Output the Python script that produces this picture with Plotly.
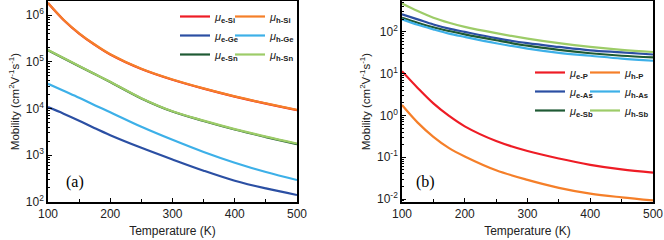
import plotly.graph_objects as go

# ---------------- data ----------------
temperature = [100, 125, 150, 175, 200, 250, 300, 350, 400, 450, 500]

# panel (a)  mobility, cm^2 V^-1 s^-1
mu_e_Si = [1.80e6, 7.85e5, 4.02e5, 2.31e5, 1.43e5, 7.0e4, 4.12e4, 2.66e4, 1.80e4, 1.27e4, 9.2e3]
mu_h_Si = [1.82e6, 7.94e5, 4.07e5, 2.34e5, 1.45e5, 7.08e4, 4.17e4, 2.69e4, 1.82e4, 1.29e4, 9.33e3]
mu_e_Ge = [1.07e4, 7.76e3, 5.50e3, 3.80e3, 2.69e3, 1.445e3, 813, 468, 285, 195, 141]
mu_h_Ge = [3.39e4, 2.40e4, 1.70e4, 1.175e4, 8.32e3, 4.07e3, 2.14e3, 1.175e3, 692, 437, 295]
mu_e_Sn = [1.76e5, 1.19e5, 8.05e4, 5.45e4, 3.68e4, 1.64e4, 8.6e3, 5.42e3, 3.56e3, 2.45e3, 1.72e3]
mu_h_Sn = [1.78e5, 1.20e5, 8.13e4, 5.50e4, 3.72e4, 1.66e4, 8.71e3, 5.50e3, 3.63e3, 2.51e3, 1.78e3]

# panel (b)
mu_e_P = [11.5, 4.57, 1.95, 0.977, 0.550, 0.245, 0.141, 0.0933, 0.0661, 0.0513, 0.0427]
mu_h_P = [1.78, 0.676, 0.309, 0.166, 0.105, 0.049, 0.0288, 0.0186, 0.0135, 0.011, 0.0093]
mu_e_As = [263, 200, 151, 120, 100, 70.8, 53.7, 43.7, 36.3, 32.4, 28.8]
mu_h_As = [200, 148, 115, 91.2, 75.9, 53.7, 39.8, 31.6, 26.9, 22.9, 20.4]
mu_e_Sb = [219, 166, 129, 105, 87.1, 63.1, 46.8, 37.2, 30.9, 26.9, 24.5]
mu_h_Sb = [479, 316, 219, 166, 132, 93.3, 69.2, 53.7, 43.7, 37.2, 33.1]

# tick labels
ticks_a = [1e2, 1e3, 1e4, 1e5, 1e6]
ticktext_a = ["10<sup>2</sup>", "10<sup>3</sup>", "10<sup>4</sup>", "10<sup>5</sup>", "10<sup>6</sup>"]
ticks_b = [1e-2, 1e-1, 1e0, 1e1, 1e2]
ticktext_b = ["10<sup>-2</sup>", "10<sup>-1</sup>", "10<sup>0</sup>", "10<sup>1</sup>", "10<sup>2</sup>"]

RED = "#EE1C25"
ORANGE = "#F57F29"
BLUE = "#2B4FA3"
LBLUE = "#3DB0E8"
DGREEN = "#1F5A34"
LGREEN = "#9DCC68"

FONT = "Liberation Sans, Arial, sans-serif"

fig = go.Figure()


def label(sym):
    return "<i>\u03bc</i><sub><b>" + sym + "</b></sub>"


def add(x, y, name, color, xa, ya, leg):
    fig.add_trace(go.Scatter(
        x=x, y=y, name=label(name), mode="lines",
        line=dict(color=color, width=2.2, shape="spline", smoothing=1),
        xaxis=xa, yaxis=ya, legend=leg))


# panel (a): e- first, h- on top
add(temperature, mu_e_Si, "e-Si", RED, "x", "y", "legend")
add(temperature, mu_e_Ge, "e-Ge", BLUE, "x", "y", "legend")
add(temperature, mu_e_Sn, "e-Sn", DGREEN, "x", "y", "legend")
add(temperature, mu_h_Si, "h-Si", ORANGE, "x", "y", "legend2")
add(temperature, mu_h_Ge, "h-Ge", LBLUE, "x", "y", "legend2")
add(temperature, mu_h_Sn, "h-Sn", LGREEN, "x", "y", "legend2")

# panel (b)
add(temperature, mu_e_P, "e-P", RED, "x2", "y2", "legend3")
add(temperature, mu_e_As, "e-As", BLUE, "x2", "y2", "legend3")
add(temperature, mu_e_Sb, "e-Sb", DGREEN, "x2", "y2", "legend3")
add(temperature, mu_h_P, "h-P", ORANGE, "x2", "y2", "legend4")
add(temperature, mu_h_As, "h-As", LBLUE, "x2", "y2", "legend4")
add(temperature, mu_h_Sb, "h-Sb", LGREEN, "x2", "y2", "legend4")

W, H = 664, 240
ML, MR, MT, MB = 0, 0, 1, 38


def xaxis(domain, anchor):
    return dict(
        domain=domain, anchor=anchor, range=[100, 500], dtick=100,
        automargin=False,
        showline=True, linecolor="black", linewidth=1.6, mirror=True,
        ticks="inside", ticklen=4, tickwidth=1, tickcolor="black",
        minor=dict(ticks="inside", ticklen=3, dtick=50, tickcolor="black"),
        showgrid=False, zeroline=False,
        tickfont=dict(family=FONT, size=12, color="#222"),
        title=dict(text="Temperature (K)", font=dict(family=FONT, size=12, color="#222"), standoff=6),
    )


def yaxis(rng, anchor, tv, tt):
    return dict(
        type="log", range=rng, anchor=anchor, domain=[0, 1],
        tickmode="array", tickvals=tv, ticktext=tt,
        automargin=False,
        showline=True, linecolor="black", linewidth=1.6, mirror=True,
        ticks="inside", ticklen=4, tickwidth=1, tickcolor="black",
        minor=dict(ticks="inside", ticklen=2.5, dtick="D1", tickcolor="black"),
        showgrid=False, zeroline=False,
        tickfont=dict(family=FONT, size=12, color="#222"),
        title=dict(text="Mobility (cm<sup>2</sup>V<sup>-1</sup>s<sup>-1</sup>)",
                   font=dict(family=FONT, size=11.5, color="#222"), standoff=4),
    )


def ypap(pix):
    ph = H - MT - MB
    return 1 - (pix - MT) / ph


def legend(xpix, ytop):
    return dict(x=xpix / W, xanchor="left", y=ypap(ytop), yanchor="top",
                bgcolor="rgba(0,0,0,0)", borderwidth=0, tracegroupgap=0,
                font=dict(family=FONT, size=11, color="#222"), itemclick=False)


fig.update_layout(
    width=W, height=H,
    margin=dict(l=ML, r=MR, t=MT, b=MB, autoexpand=False),
    paper_bgcolor="white", plot_bgcolor="white",
    showlegend=True,
    xaxis=xaxis([48 / W, 297 / W], "y"),
    yaxis=yaxis([2, 6.3], "x", ticks_a, ticktext_a),
    xaxis2=xaxis([402 / W, 653 / W], "y2"),
    yaxis2=yaxis([-2.07, 2.74], "x2", ticks_b, ticktext_b),
    legend=legend(175, 2),
    legend2=legend(230, 2),
    legend3=legend(530, 58),
    legend4=legend(585, 58),
    annotations=[
        dict(text="(a)", x=75 / W, y=ypap(182), xref="paper", yref="paper",
             xanchor="center", yanchor="middle", showarrow=False,
             font=dict(family="Liberation Serif, Times New Roman, serif", size=16, color="black")),
        dict(text="(b)", x=425 / W, y=ypap(182), xref="paper", yref="paper",
             xanchor="center", yanchor="middle", showarrow=False,
             font=dict(family="Liberation Serif, Times New Roman, serif", size=16, color="black")),
    ],
)

fig.write_html("out.html", config={"displayModeBar": False},
               post_script="document.body.style.margin='0px';")
